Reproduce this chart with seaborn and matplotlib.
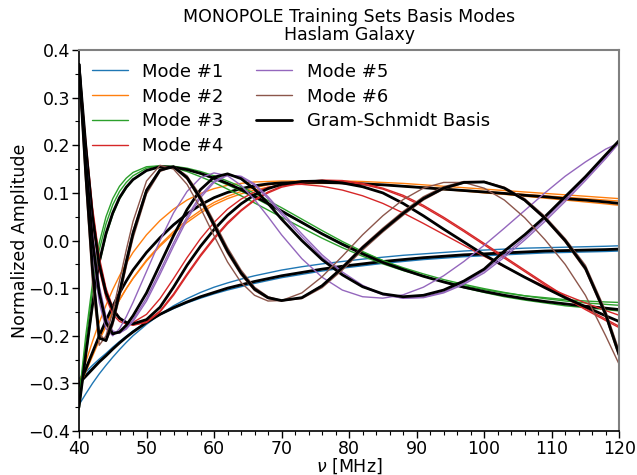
import matplotlib
matplotlib.use("Agg")
import matplotlib.pyplot as plt
from matplotlib.ticker import MultipleLocator
import seaborn as sns
import pandas as pd

sns.set_style("ticks")
plt.rcParams['font.family'] = ['DejaVu Sans']
for k in ["text.color", "axes.labelcolor", "xtick.color", "ytick.color"]:
    plt.rcParams[k] = "black"

# frequency grid [MHz]
freq = [40, 41, 42, 43, 44, 45, 46, 47, 48, 50, 52, 54, 56, 58, 60, 62, 64, 66, 68, 70,
        73, 76, 79, 82, 85, 88, 91, 94, 97, 100, 103, 106, 109, 112, 115, 118, 120]

# Gram-Schmidt basis (black) for each mode
gs1 = [-0.300, -0.285, -0.270, -0.255, -0.242, -0.228, -0.215, -0.203, -0.192, -0.172, -0.155, -0.141, -0.129, -0.118, -0.109, -0.100, -0.093, -0.086, -0.080, -0.074,
       -0.067, -0.060, -0.054, -0.049, -0.044, -0.040, -0.036, -0.033, -0.030, -0.028, -0.026, -0.024, -0.022, -0.021, -0.020, -0.019, -0.018]
gs2 = [-0.305, -0.270, -0.235, -0.200, -0.168, -0.138, -0.110, -0.085, -0.062, -0.025, 0.006, 0.033, 0.056, 0.075, 0.090, 0.101, 0.109, 0.115, 0.119, 0.121,
       0.122, 0.122, 0.121, 0.119, 0.117, 0.114, 0.111, 0.108, 0.105, 0.102, 0.099, 0.095, 0.092, 0.088, 0.085, 0.081, 0.078]
gs3 = [-0.350, -0.240, -0.135, -0.045, 0.015, 0.058, 0.090, 0.112, 0.128, 0.147, 0.155, 0.154, 0.149, 0.141, 0.131, 0.120, 0.107, 0.093, 0.078, 0.062,
       0.038, 0.014, -0.008, -0.028, -0.046, -0.061, -0.075, -0.087, -0.098, -0.107, -0.115, -0.122, -0.128, -0.133, -0.138, -0.142, -0.145]
gs4 = [0.370, 0.200, 0.050, -0.050, -0.110, -0.145, -0.163, -0.172, -0.175, -0.166, -0.140, -0.098, -0.052, -0.012, 0.023, 0.053, 0.077, 0.096, 0.109, 0.118,
       0.124, 0.125, 0.121, 0.113, 0.100, 0.078, 0.052, 0.024, -0.003, -0.030, -0.054, -0.077, -0.099, -0.120, -0.139, -0.158, -0.170]
gs5 = [0.370, 0.170, 0.000, -0.110, -0.172, -0.196, -0.192, -0.178, -0.158, -0.110, -0.050, 0.010, 0.065, 0.107, 0.133, 0.140, 0.130, 0.108, 0.078, 0.045,
       0.000, -0.040, -0.072, -0.097, -0.112, -0.118, -0.115, -0.104, -0.085, -0.060, -0.022, 0.012, 0.050, 0.092, 0.134, 0.180, 0.210]
gs6 = [0.370, 0.140, -0.060, -0.205, -0.210, -0.170, -0.110, -0.045, 0.015, 0.105, 0.148, 0.155, 0.132, 0.088, 0.033, -0.022, -0.068, -0.102, -0.120, -0.126,
       -0.120, -0.095, -0.057, -0.015, 0.022, 0.057, 0.088, 0.110, 0.122, 0.123, 0.110, 0.085, 0.047, 0.000, -0.058, -0.155, -0.240]

# training-set modes
m1 = [
    [-0.290, -0.276, -0.262, -0.249, -0.237, -0.224, -0.212, -0.201, -0.190, -0.171, -0.155, -0.141, -0.129, -0.119, -0.110, -0.101, -0.094, -0.087, -0.081, -0.075,
     -0.068, -0.061, -0.056, -0.051, -0.046, -0.042, -0.038, -0.035, -0.032, -0.030, -0.028, -0.026, -0.024, -0.023, -0.022, -0.021, -0.020],
    [-0.295, -0.281, -0.267, -0.253, -0.240, -0.227, -0.214, -0.202, -0.191, -0.172, -0.156, -0.143, -0.131, -0.121, -0.112, -0.104, -0.097, -0.090, -0.084, -0.078,
     -0.071, -0.064, -0.058, -0.053, -0.048, -0.044, -0.040, -0.037, -0.034, -0.032, -0.030, -0.028, -0.026, -0.025, -0.024, -0.023, -0.022],
    [-0.345, -0.322, -0.300, -0.280, -0.262, -0.245, -0.229, -0.214, -0.200, -0.176, -0.155, -0.137, -0.122, -0.109, -0.098, -0.089, -0.081, -0.074, -0.068, -0.062,
     -0.055, -0.049, -0.044, -0.039, -0.035, -0.031, -0.028, -0.025, -0.022, -0.020, -0.018, -0.016, -0.015, -0.014, -0.013, -0.012, -0.011],
]
m2 = [
    [-0.300, -0.268, -0.236, -0.205, -0.176, -0.149, -0.124, -0.101, -0.080, -0.043, -0.012, 0.015, 0.038, 0.058, 0.075, 0.088, 0.098, 0.106, 0.112, 0.116,
     0.119, 0.120, 0.120, 0.119, 0.117, 0.115, 0.112, 0.109, 0.106, 0.103, 0.100, 0.097, 0.094, 0.091, 0.088, 0.085, 0.083],
    [-0.310, -0.276, -0.243, -0.210, -0.180, -0.151, -0.125, -0.101, -0.079, -0.041, -0.009, 0.019, 0.043, 0.063, 0.080, 0.093, 0.103, 0.111, 0.117, 0.121,
     0.124, 0.125, 0.125, 0.124, 0.122, 0.120, 0.117, 0.114, 0.111, 0.108, 0.105, 0.102, 0.099, 0.096, 0.093, 0.090, 0.088],
    [-0.300, -0.255, -0.212, -0.172, -0.136, -0.103, -0.074, -0.048, -0.025, 0.012, 0.042, 0.066, 0.085, 0.099, 0.109, 0.116, 0.120, 0.123, 0.124, 0.125,
     0.125, 0.124, 0.122, 0.120, 0.117, 0.114, 0.111, 0.107, 0.104, 0.100, 0.097, 0.093, 0.089, 0.085, 0.081, 0.077, 0.074],
]
m3 = [
    [-0.340, -0.215, -0.105, -0.020, 0.035, 0.075, 0.103, 0.122, 0.136, 0.152, 0.157, 0.155, 0.149, 0.140, 0.129, 0.117, 0.104, 0.090, 0.075, 0.060,
     0.037, 0.015, -0.006, -0.025, -0.042, -0.057, -0.070, -0.082, -0.092, -0.101, -0.109, -0.116, -0.122, -0.127, -0.131, -0.134, -0.136],
    [-0.355, -0.245, -0.140, -0.050, 0.010, 0.054, 0.087, 0.110, 0.127, 0.147, 0.156, 0.156, 0.152, 0.145, 0.136, 0.125, 0.113, 0.099, 0.084, 0.069,
     0.045, 0.021, -0.002, -0.023, -0.042, -0.059, -0.074, -0.087, -0.099, -0.109, -0.118, -0.125, -0.131, -0.137, -0.141, -0.145, -0.148],
    [-0.330, -0.200, -0.090, -0.005, 0.050, 0.088, 0.114, 0.131, 0.143, 0.155, 0.157, 0.153, 0.145, 0.134, 0.122, 0.108, 0.094, 0.079, 0.064, 0.049,
     0.027, 0.005, -0.015, -0.033, -0.049, -0.063, -0.075, -0.086, -0.095, -0.103, -0.110, -0.116, -0.120, -0.124, -0.127, -0.129, -0.130],
]
m4 = [
    [0.370, 0.210, 0.070, -0.035, -0.100, -0.140, -0.162, -0.173, -0.177, -0.170, -0.148, -0.112, -0.070, -0.030, 0.006, 0.038, 0.064, 0.086, 0.102, 0.114,
     0.123, 0.127, 0.126, 0.120, 0.110, 0.095, 0.074, 0.049, 0.022, -0.006, -0.034, -0.062, -0.090, -0.117, -0.142, -0.165, -0.180],
    [0.365, 0.205, 0.065, -0.040, -0.104, -0.143, -0.165, -0.175, -0.178, -0.172, -0.150, -0.115, -0.073, -0.033, 0.003, 0.035, 0.062, 0.084, 0.100, 0.112,
     0.121, 0.125, 0.124, 0.118, 0.108, 0.092, 0.071, 0.046, 0.019, -0.009, -0.037, -0.065, -0.093, -0.120, -0.145, -0.168, -0.183],
    [0.360, 0.190, 0.040, -0.060, -0.120, -0.155, -0.170, -0.175, -0.172, -0.155, -0.122, -0.080, -0.036, 0.004, 0.038, 0.066, 0.087, 0.102, 0.112, 0.117,
     0.118, 0.114, 0.106, 0.094, 0.078, 0.058, 0.036, 0.013, -0.010, -0.033, -0.055, -0.076, -0.096, -0.114, -0.131, -0.147, -0.157],
]
m5 = [
    [0.365, 0.175, 0.010, -0.100, -0.165, -0.193, -0.195, -0.184, -0.166, -0.121, -0.064, -0.005, 0.050, 0.095, 0.125, 0.138, 0.134, 0.116, 0.088, 0.055,
     0.008, -0.035, -0.070, -0.097, -0.114, -0.121, -0.119, -0.108, -0.089, -0.064, -0.030, 0.006, 0.045, 0.087, 0.130, 0.176, 0.208],
    [0.360, 0.150, -0.020, -0.130, -0.185, -0.200, -0.185, -0.160, -0.130, -0.065, 0.000, 0.058, 0.103, 0.132, 0.142, 0.136, 0.116, 0.086, 0.050, 0.012,
     -0.038, -0.077, -0.104, -0.118, -0.121, -0.114, -0.098, -0.074, -0.044, -0.010, 0.026, 0.063, 0.100, 0.135, 0.165, 0.192, 0.205],
    [0.370, 0.180, 0.015, -0.095, -0.160, -0.190, -0.194, -0.186, -0.170, -0.127, -0.071, -0.012, 0.044, 0.090, 0.122, 0.137, 0.135, 0.119, 0.092, 0.060,
     0.014, -0.030, -0.066, -0.094, -0.113, -0.121, -0.120, -0.110, -0.092, -0.068, -0.035, 0.001, 0.040, 0.082, 0.126, 0.172, 0.205],
]
m6 = [
    [0.365, 0.135, -0.065, -0.205, -0.208, -0.166, -0.105, -0.040, 0.020, 0.108, 0.150, 0.154, 0.129, 0.084, 0.028, -0.027, -0.072, -0.105, -0.122, -0.127,
     -0.120, -0.094, -0.055, -0.012, 0.026, 0.061, 0.092, 0.113, 0.124, 0.124, 0.110, 0.084, 0.045, -0.003, -0.062, -0.160, -0.245],
    [0.360, 0.120, -0.090, -0.220, -0.200, -0.150, -0.085, -0.020, 0.040, 0.125, 0.158, 0.150, 0.118, 0.068, 0.010, -0.045, -0.088, -0.115, -0.127, -0.126,
     -0.110, -0.076, -0.033, 0.012, 0.052, 0.086, 0.110, 0.122, 0.122, 0.110, 0.085, 0.048, 0.002, -0.050, -0.115, -0.200, -0.260],
    [0.370, 0.145, -0.050, -0.195, -0.212, -0.178, -0.120, -0.055, 0.005, 0.098, 0.145, 0.156, 0.136, 0.094, 0.040, -0.015, -0.062, -0.098, -0.118, -0.126,
     -0.122, -0.099, -0.062, -0.020, 0.018, 0.053, 0.085, 0.108, 0.121, 0.124, 0.112, 0.088, 0.051, 0.004, -0.052, -0.148, -0.232],
]

modes = [m1, m2, m3, m4, m5, m6]
basis = [gs1, gs2, gs3, gs4, gs5, gs6]
colors = sns.color_palette("tab10")[:6]

fig = plt.figure(figsize=(6.37, 4.75), dpi=100)
ax = fig.add_axes([0.124, 0.0926, 0.848, 0.802])

handles = []
for i, (curves, gs) in enumerate(zip(modes, basis)):
    for j, c in enumerate(curves):
        sns.lineplot(x=freq, y=c, ax=ax, color=colors[i], lw=1.0, sort=False)
        if j == 0:
            handles.append(ax.lines[-1])
    sns.lineplot(x=freq, y=gs, ax=ax, color="black", lw=2, sort=False)
gs_handle = ax.lines[-1]

ax.legend(handles + [gs_handle],
          ["Mode #1", "Mode #2", "Mode #3", "Mode #4", "Mode #5", "Mode #6", "Gram-Schmidt Basis"],
          loc="upper left", ncol=2, frameon=False, fontsize=13, handlelength=2.0,
          handletextpad=0.8, columnspacing=1.8, labelspacing=0.38,
          borderaxespad=0.3, bbox_to_anchor=(0.0, 1.0))

ax.set_xlim(40, 120)
ax.set_ylim(-0.4, 0.4)
ax.xaxis.set_major_locator(MultipleLocator(10))
ax.xaxis.set_minor_locator(MultipleLocator(2))
ax.yaxis.set_major_locator(MultipleLocator(0.1))
ax.yaxis.set_minor_locator(MultipleLocator(0.05))
ax.tick_params(which="major", length=5, width=1, labelsize=12.5, pad=1.5, direction="out", color="black")
ax.tick_params(which="minor", length=3, width=0.8, direction="out", color="black")

for s in ["top", "right"]:
    ax.spines[s].set_color("gray")
    ax.spines[s].set_linewidth(1.5)
for s in ["left", "bottom"]:
    ax.spines[s].set_color("black")
    ax.spines[s].set_linewidth(1.2)

ax.set_xlabel(r"$\nu$ [MHz]", fontsize=12.5, labelpad=-1)
ax.set_ylabel("Normalized Amplitude", fontsize=12.5, labelpad=-1)
ax.set_title("MONOPOLE Training Sets Basis Modes\nHaslam Galaxy", fontsize=12.5, pad=7, linespacing=1.0)

fig.savefig("out.png", dpi=100)
